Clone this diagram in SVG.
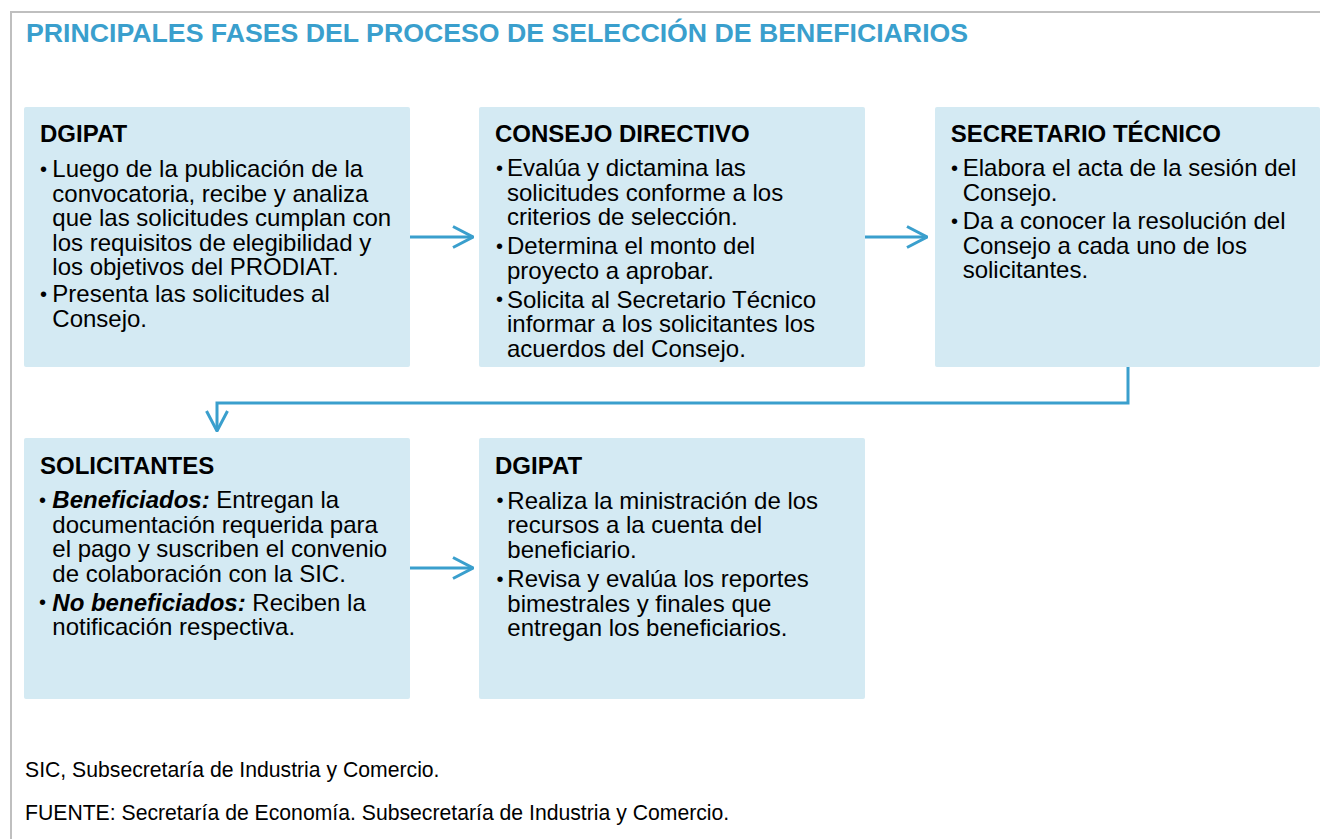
<svg xmlns="http://www.w3.org/2000/svg" width="1324" height="839" viewBox="0 0 1324 839">
<style>
.box{fill:#d4eaf3;}
.t{font-family:"Liberation Sans",Arial,sans-serif;font-size:24px;fill:#000;}
.b{font-family:"Liberation Sans",Arial,sans-serif;font-size:20px;fill:#000;}
.h{font-family:"Liberation Sans",Arial,sans-serif;font-size:24px;font-weight:bold;fill:#000;}
.bi{font-weight:bold;font-style:italic;}
.title{font-family:"Liberation Sans",Arial,sans-serif;font-size:26.7px;font-weight:bold;fill:#3a9fcd;}
.foot{font-family:"Liberation Sans",Arial,sans-serif;font-size:21.2px;fill:#000;}
.conn{fill:none;stroke:#3a9fcd;stroke-width:3;}
</style>
<defs>
<marker id="chev" viewBox="0 0 22 24" refX="21" refY="12" markerWidth="22" markerHeight="24" markerUnits="userSpaceOnUse" orient="auto">
<path d="M1,1.5 L21,12 L1,22.5" fill="none" stroke="#3a9fcd" stroke-width="3" stroke-linejoin="miter"/>
</marker>
</defs>
<rect width="1324" height="839" fill="#fff"/>
<path d="M11,839 L11,12 L1320,12" fill="none" stroke="#bfbfbf" stroke-width="2"/>
<text class="title" x="26" y="42">PRINCIPALES FASES DEL PROCESO DE SELECCIÓN DE BENEFICIARIOS</text>

<g id="connectors">
<line class="conn" x1="410" y1="237" x2="473" y2="237" marker-end="url(#chev)"/>
<line class="conn" x1="865" y1="237" x2="927" y2="237" marker-end="url(#chev)"/>
<polyline class="conn" points="1128,367 1128,403 217,403 217,431" marker-end="url(#chev)"/>
<line class="conn" x1="410" y1="568" x2="473" y2="568" marker-end="url(#chev)"/>
</g>

<g id="n1">
<rect class="box" x="24" y="107" width="386" height="260" rx="2"/>
<text class="h" x="40" y="142">DGIPAT</text>
<text class="b" x="40" y="175.5">•</text>
<text class="t" x="52.3" y="177">Luego de la publicación de la</text>
<text class="t" x="52.3" y="201.5">convocatoria, recibe y analiza</text>
<text class="t" x="52.3" y="226">que las solicitudes cumplan con</text>
<text class="t" x="52.3" y="250.5">los requisitos de elegibilidad y</text>
<text class="t" x="52.3" y="275">los objetivos del PRODIAT.</text>
<text class="b" x="40" y="300.5">•</text>
<text class="t" x="52.3" y="302">Presenta las solicitudes al</text>
<text class="t" x="52.3" y="326.5">Consejo.</text>
</g>

<g id="n2">
<rect class="box" x="479" y="107" width="386" height="260" rx="2"/>
<text class="h" x="495" y="142">CONSEJO DIRECTIVO</text>
<text class="b" x="496" y="174.5">•</text>
<text class="t" x="507" y="176">Evalúa y dictamina las</text>
<text class="t" x="507" y="200.5">solicitudes conforme a los</text>
<text class="t" x="507" y="225">criterios de selección.</text>
<text class="b" x="496" y="252.5">•</text>
<text class="t" x="507" y="254">Determina el monto del</text>
<text class="t" x="507" y="278.5">proyecto a aprobar.</text>
<text class="b" x="496" y="306">•</text>
<text class="t" x="507" y="307.5">Solicita al Secretario Técnico</text>
<text class="t" x="507" y="332">informar a los solicitantes los</text>
<text class="t" x="507" y="356.5">acuerdos del Consejo.</text>
</g>

<g id="n3">
<rect class="box" x="935" y="107" width="385" height="260" rx="2"/>
<text class="h" x="950.7" y="142">SECRETARIO TÉCNICO</text>
<text class="b" x="951" y="174.5">•</text>
<text class="t" x="962.7" y="176">Elabora el acta de la sesión del</text>
<text class="t" x="962.7" y="200.5">Consejo.</text>
<text class="b" x="951" y="227.5">•</text>
<text class="t" x="962.7" y="229">Da a conocer la resolución del</text>
<text class="t" x="962.7" y="253.5">Consejo a cada uno de los</text>
<text class="t" x="962.7" y="278">solicitantes.</text>
</g>

<g id="n4">
<rect class="box" x="24" y="438" width="386" height="261" rx="2"/>
<text class="h" x="40" y="474">SOLICITANTES</text>
<text class="b" x="39" y="506.5">•</text>
<text class="t" x="52.3" y="508"><tspan class="bi">Beneficiados:</tspan> Entregan la</text>
<text class="t" x="52.3" y="532.5">documentación requerida para</text>
<text class="t" x="52.3" y="557">el pago y suscriben el convenio</text>
<text class="t" x="52.3" y="581.5">de colaboración con la SIC.</text>
<text class="b" x="39" y="609">•</text>
<text class="t" x="52.3" y="610.5"><tspan class="bi">No beneficiados:</tspan> Reciben la</text>
<text class="t" x="52.3" y="635">notificación respectiva.</text>
</g>

<g id="n5">
<rect class="box" x="479" y="438" width="386" height="261" rx="2"/>
<text class="h" x="495" y="474">DGIPAT</text>
<text class="b" x="496.5" y="507">•</text>
<text class="t" x="507.3" y="508.5">Realiza la ministración de los</text>
<text class="t" x="507.3" y="533">recursos a la cuenta del</text>
<text class="t" x="507.3" y="557.5">beneficiario.</text>
<text class="b" x="496.5" y="585.5">•</text>
<text class="t" x="507.3" y="587">Revisa y evalúa los reportes</text>
<text class="t" x="507.3" y="611.5">bimestrales y finales que</text>
<text class="t" x="507.3" y="636">entregan los beneficiarios.</text>
</g>

<text class="foot" x="25" y="777">SIC, Subsecretaría de Industria y Comercio.</text>
<text class="foot" x="25" y="820">FUENTE: Secretaría de Economía. Subsecretaría de Industria y Comercio.</text>
</svg>
